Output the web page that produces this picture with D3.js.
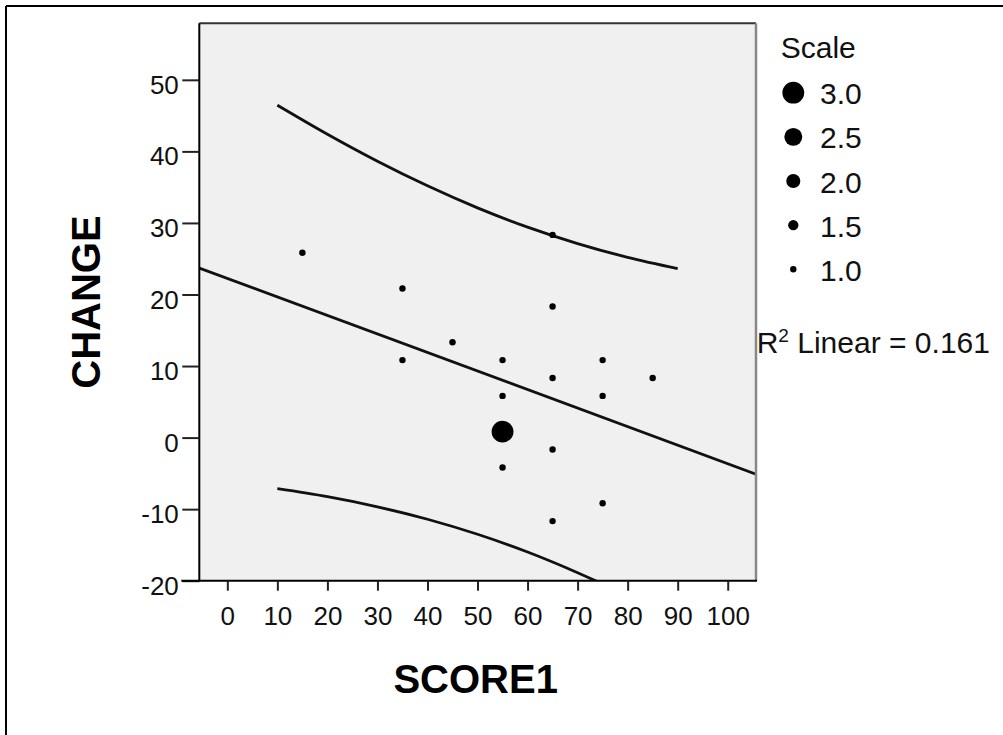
<!DOCTYPE html>
<html>
<head>
<meta charset="utf-8">
<script src="https://cdn.jsdelivr.net/npm/d3@7/dist/d3.min.js"></script>
<style>
  html, body { margin: 0; padding: 0; background: #fff; }
  svg { display: block; }
  text { font-family: "Liberation Sans", Arial, sans-serif; }
</style>
</head>
<body>
<svg id="chart" width="1003" height="735"></svg>
<script>
// ---- data ----
const score1 = [15, 35, 35, 45, 55, 55, 55, 55, 65, 65, 65, 65, 65, 75, 75, 75, 85];
const change = [25.83, 20.83, 10.83, 13.33, 10.83, 5.83, 0.83, -4.17, 28.33, 18.33, 8.33, -1.67, -11.67, 10.83, 5.83, -9.17, 8.33];
const scaleVals = [1, 1, 1, 1, 1, 1, 3, 1, 1, 1, 1, 1, 1, 1, 1, 1, 1];

const xTicks = [0, 10, 20, 30, 40, 50, 60, 70, 80, 90, 100];
const yTicks = [-20, -10, 0, 10, 20, 30, 40, 50];
const legendValues = [3.0, 2.5, 2.0, 1.5, 1.0];

// fit line and 95% prediction band
const fitIntercept = 22.25;
const fitSlope = -0.259;
const rSquared = 0.161;
const bandX = [10, 20, 30, 40, 50, 60, 70, 80, 90];
const bandUpper = [46.46, 42.40, 38.63, 35.19, 32.11, 29.41, 27.12, 25.19, 23.62];
const bandLower = [-7.14, -8.26, -9.67, -11.41, -13.51, -15.99, -18.88, -22.13, -25.74];

// ---- layout ----
const svg = d3.select("#chart");
const P = { left: 199.3, right: 756, top: 23.3, bottom: 580.7 };

const x = d3.scaleLinear().domain([-5.6, 105.65]).range([P.left, P.right]);
const y = d3.scaleLinear().domain([-20, 57.9]).range([P.bottom, P.top]);
const r = d3.scaleLinear().domain([1, 3]).range([3.2, 10.9]);
const fmtTick = d => String(d);

// outer frame (top + left only)
svg.append("line").attr("x1", 6).attr("x2", 1003).attr("y1", 6).attr("y2", 6)
  .attr("stroke", "#000").attr("stroke-width", 2);
svg.append("line").attr("x1", 6).attr("x2", 6).attr("y1", 6).attr("y2", 735)
  .attr("stroke", "#000").attr("stroke-width", 2);

// plot background
svg.append("rect")
  .attr("x", P.left).attr("y", P.top)
  .attr("width", P.right - P.left).attr("height", P.bottom - P.top)
  .attr("fill", "#f0f0f0");

svg.append("clipPath").attr("id", "clip").append("rect")
  .attr("x", P.left).attr("y", P.top)
  .attr("width", P.right - P.left).attr("height", P.bottom - P.top);

const plot = svg.append("g").attr("clip-path", "url(#clip)");

// fit line
const xd = x.domain();
plot.append("line")
  .attr("x1", x(xd[0])).attr("y1", y(fitIntercept + fitSlope * xd[0]))
  .attr("x2", x(xd[1])).attr("y2", y(fitIntercept + fitSlope * xd[1]))
  .attr("stroke", "#111").attr("stroke-width", 2.8);

// prediction band curves
const bandLine = d3.line().x(d => x(d[0])).y(d => y(d[1])).curve(d3.curveMonotoneX);
plot.append("path").datum(bandX.map((v, i) => [v, bandUpper[i]]))
  .attr("d", bandLine).attr("fill", "none").attr("stroke", "#111").attr("stroke-width", 2.8);
plot.append("path").datum(bandX.map((v, i) => [v, bandLower[i]]))
  .attr("d", bandLine).attr("fill", "none").attr("stroke", "#111").attr("stroke-width", 2.8);

// points
plot.selectAll("circle.pt").data(score1.map((v, i) => ({ x: v, y: change[i], s: scaleVals[i] })))
  .join("circle").attr("class", "pt")
  .attr("cx", d => x(d.x)).attr("cy", d => y(d.y)).attr("r", d => r(d.s))
  .attr("fill", "#000");

// plot frame
svg.append("line").attr("x1", P.left).attr("x2", P.right).attr("y1", P.top).attr("y2", P.top)
  .attr("stroke", "#333").attr("stroke-width", 2);
svg.append("line").attr("x1", P.right).attr("x2", P.right).attr("y1", P.top).attr("y2", P.bottom)
  .attr("stroke", "#888").attr("stroke-width", 2.5);

// axes
const yAxis = d3.axisLeft(y).tickValues(yTicks).tickFormat(fmtTick).tickSize(17).tickPadding(3.5);
const gy = svg.append("g").attr("transform", `translate(${P.left},0)`).call(yAxis);
gy.select(".domain").attr("stroke", "#000").attr("stroke-width", 2).attr("d", `M0,${P.top}V${P.bottom + 1}`);
gy.selectAll(".tick line").attr("stroke", "#222").attr("stroke-width", 2);
gy.selectAll(".tick text").attr("font-size", 26).attr("fill", "#111").attr("dy", "0.52em")
  .attr("font-family", "'Liberation Sans', Arial, sans-serif");

const xAxis = d3.axisBottom(x).tickValues(xTicks).tickFormat(fmtTick).tickSize(10).tickPadding(16);
const gx = svg.append("g").attr("transform", `translate(0,${P.bottom})`).call(xAxis);
gx.select(".domain").attr("stroke", "#000").attr("stroke-width", 2).attr("d", `M${P.left - 18},0H${P.right + 1}`);
gx.selectAll(".tick line").attr("stroke", "#222").attr("stroke-width", 2);
gx.selectAll(".tick text").attr("font-size", 26).attr("fill", "#111")
  .attr("font-family", "'Liberation Sans', Arial, sans-serif");

// axis titles
svg.append("text").text("SCORE1")
  .attr("x", (P.left + P.right) / 2 - 2).attr("y", 692.7)
  .attr("text-anchor", "middle").attr("font-size", 40).attr("font-weight", "bold").attr("fill", "#000");
svg.append("text").text("CHANGE")
  .attr("transform", `translate(99.5,${(P.top + P.bottom) / 2}) rotate(-90)`)
  .attr("text-anchor", "middle").attr("font-size", 40).attr("font-weight", "bold").attr("fill", "#000");

// legend
const lg = svg.append("g");
lg.append("text").text("Scale").attr("x", 780.7).attr("y", 57.7)
  .attr("font-size", 30).attr("fill", "#111");
const legendY = d3.scalePoint().domain(legendValues).range([92.7, 269.3]);
legendValues.forEach(v => {
  lg.append("circle").attr("cx", 793.3).attr("cy", legendY(v)).attr("r", r(v)).attr("fill", "#000");
  lg.append("text").text(d3.format(".1f")(v)).attr("x", 820).attr("y", legendY(v) + 11.5)
    .attr("font-size", 30).attr("fill", "#111");
});

// R squared annotation
const rt = svg.append("text").attr("x", 756.7).attr("y", 352.7).attr("font-size", 30).attr("fill", "#111");
rt.append("tspan").text("R");
rt.append("tspan").text("2").attr("font-size", 19).attr("dy", -11);
rt.append("tspan").text(` Linear = ${d3.format(".3f")(rSquared)}`).attr("dy", 11);
</script>
</body>
</html>
